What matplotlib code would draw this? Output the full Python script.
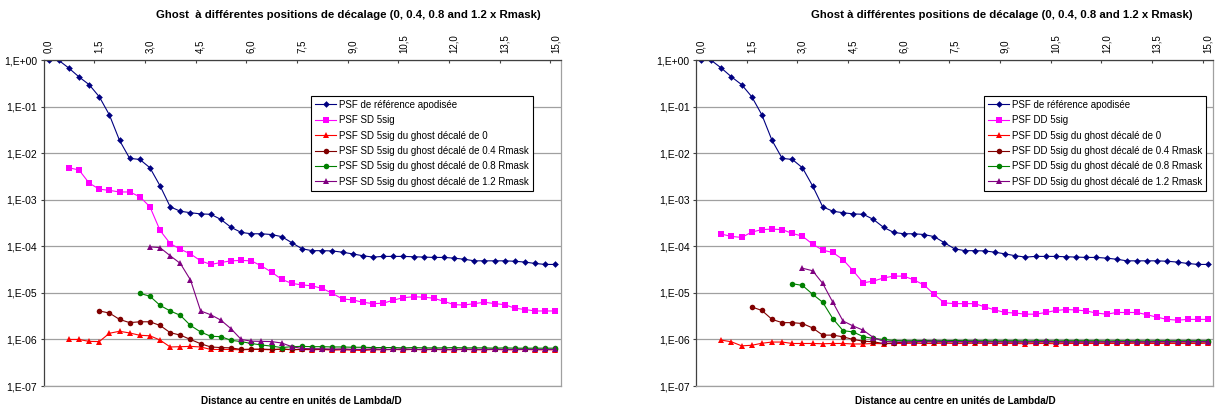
import numpy as np
import matplotlib
matplotlib.use('Agg')
import matplotlib.pyplot as plt
from matplotlib.ticker import FixedLocator, FuncFormatter

plt.rcParams['font.family'] = ['Liberation Sans', 'DejaVu Sans']

# Distance (lambda/D), 51 categories from 0 to 15
distance = np.linspace(0.0, 15.0, 51)
x_tick_values = [0.0, 1.5, 3.0, 4.5, 6.0, 7.5, 9.0, 10.5, 12.0, 13.5, 15.0]
x_tick_labels = ['0,0', '1,5', '3,0', '4,5', '6,0', '7,5', '9,0', '10,5', '12,0', '13,5', '15,0']
y_tick_labels = ['1,E-07', '1,E-06', '1,E-05', '1,E-04', '1,E-03', '1,E-02', '1,E-01', '1,E+00']

# reference apodised PSF (same in both charts)
psf_ref = [1.0, 1.0, 0.68, 0.44, 0.30, 0.165, 0.067, 0.019, 0.0078, 0.0074, 0.0049,
           2.0e-3, 7.1e-4, 5.7e-4, 5.3e-4, 5.0e-4, 4.9e-4, 3.8e-4, 2.57e-4, 2.0e-4, 1.87e-4,
           1.87e-4, 1.8e-4, 1.62e-4, 1.2e-4, 8.9e-5, 8.1e-5, 8.1e-5, 8.0e-5, 7.5e-5, 6.9e-5,
           6.3e-5, 5.9e-5, 6.1e-5, 6.1e-5, 6.1e-5, 6.0e-5, 5.9e-5, 5.8e-5, 5.8e-5, 5.6e-5,
           5.3e-5, 4.9e-5, 4.9e-5, 4.9e-5, 4.9e-5, 4.8e-5, 4.6e-5, 4.3e-5, 4.1e-5, 4.1e-5]

# ---- SD chart (left)
sd_5sig = [None, None, 4.9e-3, 4.4e-3, 2.3e-3, 1.7e-3, 1.6e-3, 1.48e-3, 1.48e-3, 1.17e-3, 7.1e-4,
           2.2e-4, 1.15e-4, 8.7e-5, 6.9e-5, 4.9e-5, 4.1e-5, 4.5e-5, 4.9e-5, 5.0e-5, 4.9e-5,
           3.8e-5, 2.8e-5, 1.96e-5, 1.6e-5, 1.49e-5, 1.42e-5, 1.25e-5, 9.8e-6, 7.4e-6, 7.1e-6,
           6.3e-6, 5.9e-6, 6.0e-6, 7.0e-6, 7.9e-6, 8.3e-6, 8.1e-6, 7.7e-6, 6.6e-6, 5.6e-6,
           5.5e-6, 5.9e-6, 6.3e-6, 5.9e-6, 5.6e-6, 4.7e-6, 4.4e-6, 4.1e-6, 4.1e-6, 4.1e-6]
sd_ghost_0 = [None, None, 1.0e-6, 1.0e-6, 9.1e-7, 9.0e-7, 1.36e-6, 1.5e-6, 1.38e-6, 1.23e-6, 1.2e-6,
              9.7e-7, 6.9e-7, 7.0e-7, 7.1e-7, 6.9e-7, 6.1e-7, 6.1e-7, 6.1e-7, 6.0e-7, 6.1e-7,
              6.1e-7, 6.0e-7, 6.2e-7, 6.0e-7, 6.1e-7, 6.0e-7, 6.1e-7, 5.9e-7, 6.0e-7, 5.9e-7,
              5.8e-7, 6.0e-7, 6.0e-7, 6.1e-7, 6.0e-7, 6.1e-7, 6.0e-7, 6.1e-7, 6.0e-7, 6.0e-7,
              6.1e-7, 6.0e-7, 6.0e-7, 6.1e-7, 6.0e-7, 6.0e-7, 6.1e-7, 6.0e-7, 6.0e-7, 6.0e-7]
sd_ghost_04 = [None] * 5 + [
    4.1e-6, 3.7e-6, 2.7e-6, 2.3e-6, 2.4e-6, 2.4e-6, 2.0e-6, 1.4e-6, 1.24e-6, 1.0e-6,
    8.1e-7, 6.9e-7, 6.7e-7, 6.6e-7, 6.1e-7, 6.2e-7, 6.2e-7, 6.1e-7, 6.2e-7, 6.1e-7,
    6.1e-7, 6.2e-7, 6.1e-7, 6.1e-7, 6.2e-7, 6.1e-7, 6.1e-7, 6.2e-7, 6.1e-7, 6.1e-7,
    6.2e-7, 6.1e-7, 6.1e-7, 6.2e-7, 6.1e-7, 6.1e-7, 6.2e-7, 6.1e-7, 6.1e-7, 6.2e-7,
    6.1e-7, 6.1e-7, 6.2e-7, 6.1e-7, 6.1e-7, 6.1e-7]
sd_ghost_08 = [None] * 9 + [
    9.8e-6, 8.5e-6, 5.4e-6, 4.1e-6, 3.3e-6, 2.0e-6, 1.45e-6, 1.17e-6, 1.15e-6, 9.6e-7,
    9.0e-7, 8.2e-7, 7.6e-7, 7.2e-7, 6.7e-7, 7.0e-7, 7.1e-7, 7.0e-7, 7.0e-7, 6.9e-7,
    6.9e-7, 6.8e-7, 6.8e-7, 6.7e-7, 6.7e-7, 6.7e-7, 6.6e-7, 6.7e-7, 6.6e-7, 6.6e-7,
    6.6e-7, 6.7e-7, 6.6e-7, 6.6e-7, 6.6e-7, 6.5e-7, 6.6e-7, 6.5e-7, 6.5e-7, 6.5e-7,
    6.5e-7, 6.5e-7]
sd_ghost_12 = [None] * 10 + [
    9.8e-5, 9.4e-5, 6.3e-5, 4.3e-5, 1.9e-5, 4.1e-6, 3.4e-6, 2.6e-6, 1.7e-6, 1.0e-6,
    9.2e-7, 9.1e-7, 9.0e-7, 8.4e-7, 7.0e-7, 6.4e-7, 6.3e-7, 6.3e-7, 6.2e-7, 6.2e-7,
    6.1e-7, 6.1e-7, 6.2e-7, 6.1e-7, 6.1e-7, 6.2e-7, 6.1e-7, 6.1e-7, 6.1e-7, 6.1e-7,
    6.1e-7, 6.1e-7, 6.1e-7, 6.1e-7, 6.1e-7, 6.1e-7, 6.1e-7, 6.1e-7, 6.1e-7, 6.1e-7,
    6.1e-7]

# ---- DD chart (right)
dd_5sig = [None, None, 1.84e-4, 1.64e-4, 1.56e-4, 2.03e-4, 2.3e-4, 2.35e-4, 2.3e-4, 1.9e-4, 1.66e-4,
           1.12e-4, 8.3e-5, 7.4e-5, 5.2e-5, 3.0e-5, 1.65e-5, 1.8e-5, 2.1e-5, 2.3e-5, 2.3e-5,
           1.9e-5, 1.48e-5, 9.3e-6, 6.1e-6, 5.9e-6, 5.9e-6, 5.9e-6, 5.0e-6, 4.3e-6, 3.8e-6,
           3.7e-6, 3.5e-6, 3.5e-6, 3.8e-6, 4.2e-6, 4.4e-6, 4.3e-6, 4.1e-6, 3.7e-6, 3.5e-6,
           3.8e-6, 3.8e-6, 3.8e-6, 3.4e-6, 3.0e-6, 2.7e-6, 2.6e-6, 2.7e-6, 2.7e-6, 2.7e-6]
dd_ghost_0 = [None, None, 9.7e-7, 8.9e-7, 7.3e-7, 7.5e-7, 8.3e-7, 8.8e-7, 8.8e-7, 8.2e-7, 8.2e-7,
              8.2e-7, 8.1e-7, 8.2e-7, 8.2e-7, 8.0e-7, 8.0e-7, 8.2e-7, 8.1e-7, 8.2e-7, 8.2e-7,
              8.3e-7, 8.2e-7, 8.2e-7, 8.3e-7, 8.2e-7, 8.2e-7, 8.3e-7, 8.2e-7, 8.2e-7, 8.2e-7,
              8.2e-7, 8.1e-7, 8.2e-7, 8.2e-7, 8.1e-7, 8.2e-7, 8.2e-7, 8.2e-7, 8.2e-7, 8.2e-7,
              8.2e-7, 8.2e-7, 8.3e-7, 8.2e-7, 8.2e-7, 8.2e-7, 8.2e-7, 8.2e-7, 8.2e-7, 8.3e-7]
dd_ghost_04 = [None] * 5 + [
    5.0e-6, 4.2e-6, 2.7e-6, 2.3e-6, 2.3e-6, 2.2e-6, 1.77e-6, 1.24e-6, 1.24e-6, 1.14e-6,
    1.0e-6, 9.2e-7, 8.9e-7, 8.2e-7, 8.4e-7, 8.8e-7, 8.8e-7, 8.9e-7, 8.8e-7, 8.8e-7,
    8.9e-7, 8.8e-7, 8.8e-7, 8.8e-7, 8.9e-7, 8.8e-7, 8.8e-7, 8.8e-7, 8.8e-7, 8.8e-7,
    8.8e-7, 8.8e-7, 8.8e-7, 8.8e-7, 8.8e-7, 8.8e-7, 8.8e-7, 8.8e-7, 8.8e-7, 8.8e-7,
    8.8e-7, 8.8e-7, 8.8e-7, 8.8e-7, 8.8e-7, 8.8e-7]
dd_ghost_08 = [None] * 9 + [
    1.58e-5, 1.45e-5, 9.4e-6, 6.3e-6, 2.8e-6, 1.55e-6, 1.45e-6, 1.15e-6, 1.05e-6, 1.0e-6,
    9.5e-7, 9.4e-7, 9.4e-7, 9.5e-7, 9.4e-7, 9.4e-7, 9.5e-7, 9.4e-7, 9.4e-7, 9.4e-7,
    9.3e-7, 9.4e-7, 9.4e-7, 9.3e-7, 9.4e-7, 9.4e-7, 9.3e-7, 9.4e-7, 9.4e-7, 9.4e-7,
    9.4e-7, 9.3e-7, 9.4e-7, 9.4e-7, 9.4e-7, 9.3e-7, 9.4e-7, 9.4e-7, 9.4e-7, 9.4e-7,
    9.4e-7, 9.4e-7]
dd_ghost_12 = [None] * 10 + [
    3.4e-5, 3.0e-5, 1.6e-5, 6.3e-6, 2.5e-6, 1.95e-6, 1.58e-6, 1.1e-6, 9.1e-7, 8.9e-7,
    8.8e-7, 9.0e-7, 9.1e-7, 9.2e-7, 9.0e-7, 9.0e-7, 9.0e-7, 9.1e-7, 8.9e-7, 8.9e-7,
    8.9e-7, 8.9e-7, 8.9e-7, 9.0e-7, 9.1e-7, 9.0e-7, 8.9e-7, 8.9e-7, 8.9e-7, 8.9e-7,
    8.9e-7, 9.0e-7, 9.0e-7, 8.9e-7, 8.9e-7, 9.0e-7, 9.0e-7, 9.0e-7, 9.0e-7, 9.0e-7,
    9.0e-7]

colors = ['#000080', '#FF00FF', '#FF0000', '#800000', '#008000', '#800080']
markers = ['D', 's', '^', 'o', 'o', '^']
msizes = [3.4, 4.2, 4.4, 4.0, 4.0, 4.4]


def draw_panel(ax, series, labels, legend_anchor):
    for vals, col, mk, ms, lab in zip(series, colors, markers, msizes, labels):
        y = np.array(vals, dtype=float)
        ax.plot(distance, y, color=col, marker=mk, markersize=ms, linewidth=0.8,
                markeredgewidth=0, label=lab)
    ax.set_yscale('log')
    ax.set_ylim(1e-7, 1.0)
    ax.set_xlim(-0.15, 15.15)
    ax.yaxis.set_major_locator(FixedLocator([1e-7, 1e-6, 1e-5, 1e-4, 1e-3, 1e-2, 1e-1, 1.0]))
    ax.yaxis.set_minor_locator(FixedLocator([]))
    ax.yaxis.set_major_formatter(FuncFormatter(
        lambda v, p: y_tick_labels[int(round(np.log10(v))) + 7]))
    ax.grid(axis='y', color='#a0a0a0', linewidth=0.9)
    ax.set_axisbelow(True)

    # x axis on top, labels at categories, ticks between categories
    ax.xaxis.tick_top()
    ax.set_xticks(x_tick_values)
    ax.set_xticklabels(x_tick_labels, rotation=90)
    ax.set_xticks([v - 0.15 for v in x_tick_values[1:]], minor=True)
    ax.tick_params(axis='x', which='major', length=0, pad=5.5, labelsize=7)
    ax.tick_params(axis='x', which='minor', direction='in', length=2.5, width=0.8,
                   color='#404040', top=True, bottom=False)
    ax.tick_params(axis='y', which='major', length=2.5, width=0.8, pad=2,
                   labelsize=7.5, color='#404040')
    for side in ['left', 'top']:
        ax.spines[side].set_color('#404040')
        ax.spines[side].set_linewidth(0.9)
    for side in ['right', 'bottom']:
        ax.spines[side].set_color('#a0a0a0')
        ax.spines[side].set_linewidth(0.9)

    leg = ax.legend(loc='upper left', bbox_to_anchor=legend_anchor,
                    bbox_transform=fig.transFigure, fontsize=7.0, frameon=True,
                    fancybox=False, edgecolor='black', framealpha=1,
                    borderpad=0.4, labelspacing=0.55, handlelength=2.2,
                    handletextpad=0.3, borderaxespad=0)
    leg.get_frame().set_linewidth(0.8)


fig = plt.figure(figsize=(12.19, 4.08), dpi=100)
ax_sd = fig.add_axes([43.5 / 1219, 22 / 408, 517 / 1219, 325.7 / 408])
ax_dd = fig.add_axes([696 / 1219, 22 / 408, 517 / 1219, 325.7 / 408])

sd_labels = ['PSF de référence apodisée', 'PSF SD 5sig',
             'PSF SD 5sig du ghost décalé de 0',
             'PSF SD 5sig du ghost décalé de 0.4 Rmask',
             'PSF SD 5sig du ghost décalé de 0.8 Rmask',
             'PSF SD 5sig du ghost décalé de 1.2 Rmask']
dd_labels = [s.replace('SD', 'DD') for s in sd_labels]

draw_panel(ax_sd, [psf_ref, sd_5sig, sd_ghost_0, sd_ghost_04, sd_ghost_08, sd_ghost_12],
           sd_labels, (311 / 1219, 1 - 96 / 408))
draw_panel(ax_dd, [psf_ref, dd_5sig, dd_ghost_0, dd_ghost_04, dd_ghost_08, dd_ghost_12],
           dd_labels, (984 / 1219, 1 - 96 / 408))

fig.text(348 / 1219, 1 - 15 / 408,
         'Ghost  à différentes positions de décalage (0, 0.4, 0.8 and 1.2 x Rmask)',
         ha='center', va='center', fontsize=8.2, fontweight='bold')
fig.text(1002 / 1219, 1 - 15 / 408,
         'Ghost à différentes positions de décalage (0, 0.4, 0.8 and 1.2 x Rmask)',
         ha='center', va='center', fontsize=8.2, fontweight='bold')
fig.text(301 / 1219, 1 - 401.5 / 408, 'Distance au centre en unités de Lambda/D',
         ha='center', va='center', fontsize=7.2, fontweight='bold')
fig.text(955 / 1219, 1 - 401.5 / 408, 'Distance au centre en unités de Lambda/D',
         ha='center', va='center', fontsize=7.2, fontweight='bold')

fig.savefig('out.png', dpi=100)
